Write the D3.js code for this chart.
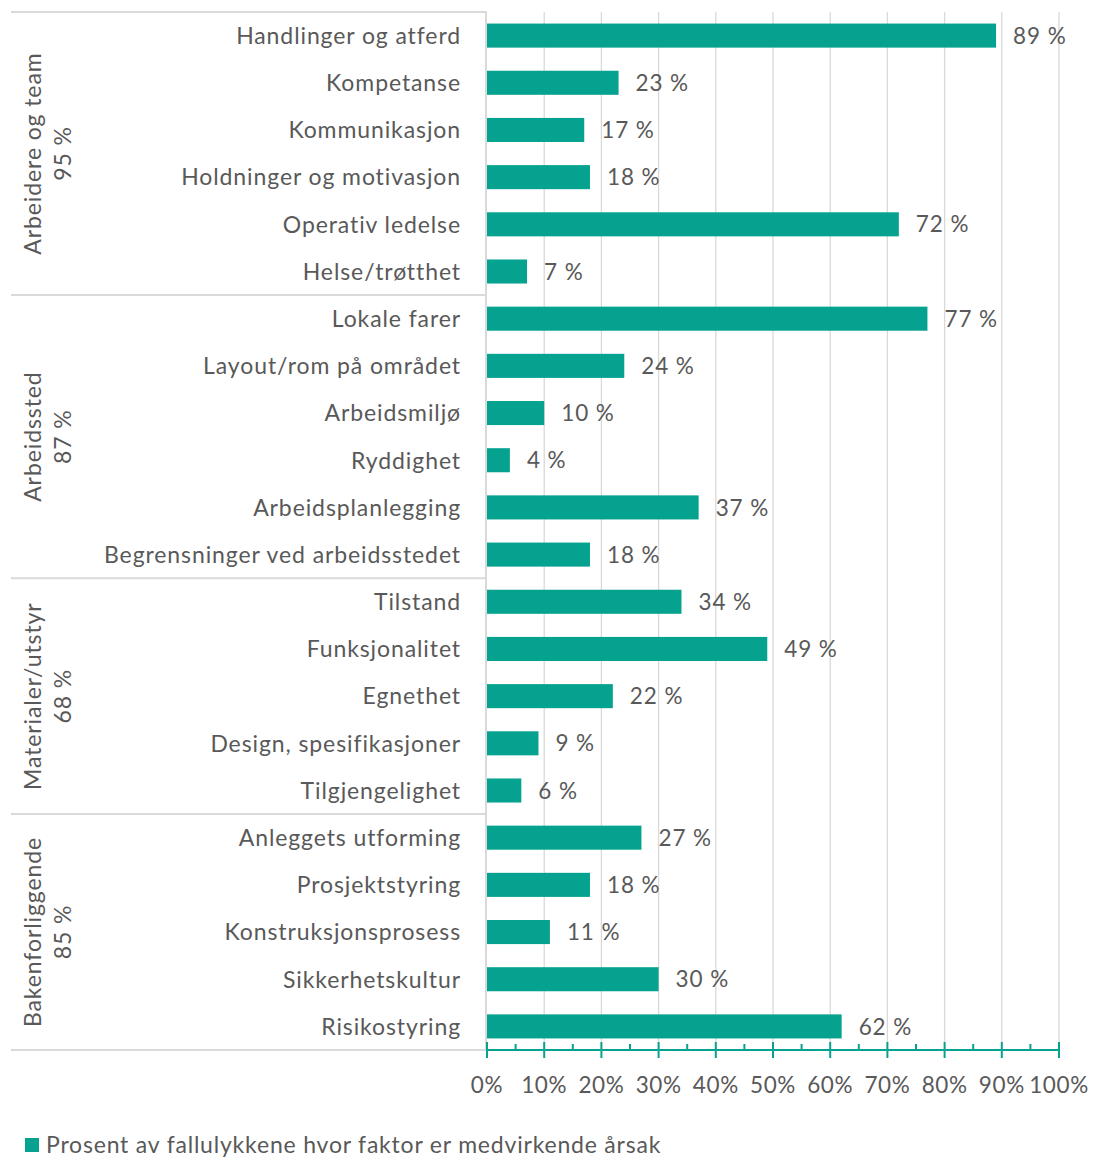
<!DOCTYPE html>
<html><head><meta charset="utf-8">
<script src="https://cdn.jsdelivr.net/npm/d3@7"></script>
<style>body{margin:0;background:#fff;} text{font-family:Lato, "Open Sans", sans-serif;}</style>
</head><body>
<svg id="c" width="1093" height="1157"></svg>
<script>
const categories = ["Handlinger og atferd","Kompetanse","Kommunikasjon","Holdninger og motivasjon","Operativ ledelse","Helse/trøtthet",
"Lokale farer","Layout/rom på området","Arbeidsmiljø","Ryddighet","Arbeidsplanlegging","Begrensninger ved arbeidsstedet",
"Tilstand","Funksjonalitet","Egnethet","Design, spesifikasjoner","Tilgjengelighet",
"Anleggets utforming","Prosjektstyring","Konstruksjonsprosess","Sikkerhetskultur","Risikostyring"];
const values = [89,23,17,18,72,7,77,24,10,4,37,18,34,49,22,9,6,27,18,11,30,62];
const groupNames = ["Arbeidere og team","Arbeidssted","Materialer/utstyr","Bakenforliggende"];
const groupTotals = ["95 %","87 %","68 %","85 %"];
const groupSizes = [6,6,5,5];
const xTicks = [0,10,20,30,40,50,60,70,80,90,100];
const legendLabel = "Prosent av fallulykkene hvor faktor er medvirkende årsak";

(function(){
const color = "#05A28F", textCol = "#595959", gridCol = "#d9d9d9";
const svg = d3.select("#c");
const pL = 487, pR = 1059, pT = 12, pB = 1050;
const x = d3.scaleLinear().domain([0,100]).range([pL,pR]);
const y = d3.scaleBand().domain(categories).range([pT,pB]).paddingInner(0.49).paddingOuter(0.245);

svg.append("g").selectAll("line").data(xTicks.slice(1)).join("line")
  .attr("x1",d=>x(d)).attr("x2",d=>x(d)).attr("y1",pT).attr("y2",pB)
  .attr("stroke",gridCol).attr("stroke-width",1.3);

const step = (pB-pT)/categories.length;
let acc = 0;
const bounds = [0];
groupSizes.forEach(s=>{acc+=s;bounds.push(acc);});
svg.append("g").selectAll("line").data(bounds).join("line")
  .attr("x1",11).attr("x2",pL).attr("y1",d=>pT+d*step).attr("y2",d=>pT+d*step)
  .attr("stroke",gridCol).attr("stroke-width",2);
svg.append("line").attr("x1",pL-1).attr("x2",pL-1).attr("y1",pT).attr("y2",pB)
  .attr("stroke",gridCol).attr("stroke-width",2);

svg.append("g").selectAll("rect").data(values).join("rect")
  .attr("x",x(0)).attr("y",(d,i)=>y(categories[i])).attr("width",d=>x(d)-x(0))
  .attr("height",y.bandwidth()).attr("fill",color);

svg.append("g").selectAll("text").data(values).join("text")
  .attr("x",d=>x(d)+17).attr("y",(d,i)=>y(categories[i])+y.bandwidth()/2)
  .attr("dy","0.36em").attr("fill",textCol).attr("font-size",22.5).attr("letter-spacing",0.9)
  .text(d=>d+" %");

svg.append("g").selectAll("text").data(categories).join("text")
  .attr("x",461).attr("y",d=>y(d)+y.bandwidth()/2).attr("dy","0.36em")
  .attr("text-anchor","end").attr("fill",textCol).attr("font-size",23).attr("letter-spacing",0.9)
  .text(d=>d);

groupNames.forEach((g,i)=>{
  const cy = pT + (bounds[i]+bounds[i+1])/2*step;
  const t = svg.append("text").attr("transform",`translate(41,${cy}) rotate(-90)`)
    .attr("text-anchor","middle").attr("fill",textCol).attr("font-size",23).attr("letter-spacing",0.9);
  t.append("tspan").attr("x",0).attr("y",0).text(g);
  t.append("tspan").attr("x",0).attr("y",30).text(groupTotals[i]);
});

const axisG = svg.append("g").attr("transform",`translate(0,${pB})`);
axisG.append("line").attr("x1",x(0)).attr("x2",x(100)).attr("stroke",color).attr("stroke-width",2);
axisG.selectAll(".maj").data(xTicks).join("line").attr("class","maj")
  .attr("x1",d=>x(d)).attr("x2",d=>x(d)).attr("y1",-8).attr("y2",8).attr("stroke",color).attr("stroke-width",2);
axisG.selectAll(".min").data(xTicks.slice(0,-1).map(d=>d+5)).join("line").attr("class","min")
  .attr("x1",d=>x(d)).attr("x2",d=>x(d)).attr("y1",-6).attr("y2",0).attr("stroke",color).attr("stroke-width",2);
axisG.selectAll("text").data(xTicks).join("text")
  .attr("x",d=>x(d)).attr("y",35).attr("dy","0.36em").attr("text-anchor","middle")
  .attr("fill",textCol).attr("font-size",22.5).attr("letter-spacing",0.6).text(d=>d+"%");

svg.append("rect").attr("x",25).attr("y",1138).attr("width",14).attr("height",14).attr("fill",color);
svg.append("text").attr("x",46).attr("y",1145).attr("dy","0.36em").attr("fill",textCol).attr("font-size",23).attr("letter-spacing",0.8).text(legendLabel);
})();
</script>
</body></html>
